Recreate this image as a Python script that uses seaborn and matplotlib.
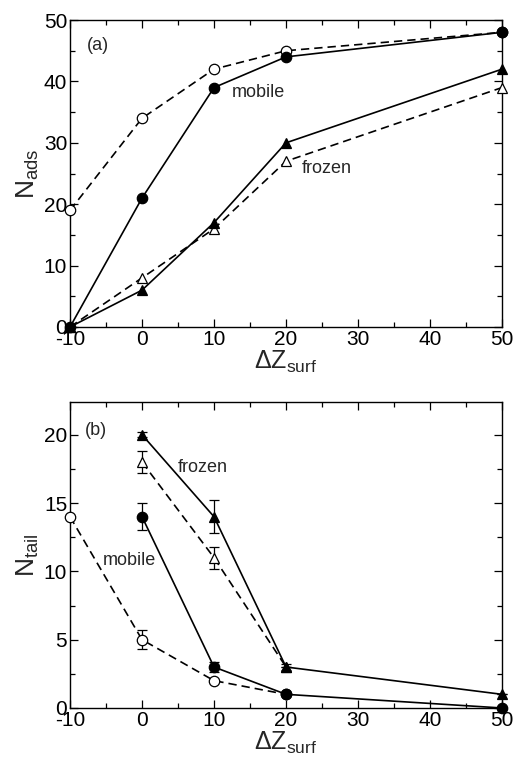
import numpy as np
import matplotlib
matplotlib.use("Agg")
import matplotlib.pyplot as plt
import seaborn as sns
from matplotlib.ticker import MultipleLocator

sns.set_theme(style="ticks")
plt.rcParams['font.family'] = ['Liberation Sans', 'DejaVu Sans']
plt.rcParams['mathtext.fontset'] = 'custom'
plt.rcParams['mathtext.rm'] = 'Liberation Sans'
plt.rcParams['mathtext.it'] = 'Liberation Sans:italic'
plt.rcParams['axes.unicode_minus'] = False

# panel (a): N_ads
x_a = [-10, 0, 10, 20, 50]
ads_mobile_open = [19, 34, 42, 45, 48]
ads_mobile_full = [0, 21, 39, 44, 48]
ads_frozen_full = [0, 6, 17, 30, 42]
ads_frozen_open = [0, 8, 16, 27, 39]

# panel (b): N_tail
x_b_frozen_full = [0, 10, 20, 50]
tail_frozen_full = [20, 14, 3, 1]
err_frozen_full = [0.2, 1.2, 0.2, 0]
x_b_frozen_open = [0, 10, 20]
tail_frozen_open = [18, 11, 3]
err_frozen_open = [0.8, 0.8, 0]
x_b_mobile_full = [0, 10, 20, 50]
tail_mobile_full = [14, 3, 1, 0]
err_mobile_full = [1.0, 0.4, 0, 0]
x_b_mobile_open = [-10, 0, 10, 20]
tail_mobile_open = [14, 5, 2, 1]
err_mobile_open = [0, 0.7, 0, 0]

fig = plt.figure(figsize=(5.13, 7.59), dpi=100)
ax1 = fig.add_axes([0.1365, 0.5692, 0.8421, 0.4044])
ax2 = fig.add_axes([0.1365, 0.0672, 0.8421, 0.4032])


def draw(ax, x, y, ls, marker, filled, err=None):
    fc = 'black' if filled else 'white'
    ms = 7.5 if marker == 'o' else 7
    if err is not None:
        ax.errorbar(x, y, yerr=err, fmt='none', ecolor='black', elinewidth=0.9,
                    capsize=3.5, capthick=0.9, zorder=2, clip_on=False)
    sns.lineplot(x=x, y=y, ax=ax, color='black', linestyle=ls, linewidth=1.2,
                 marker=marker, markersize=ms, markerfacecolor=fc,
                 markeredgecolor='black', markeredgewidth=0.9,
                 dashes=False, clip_on=False, zorder=3)


draw(ax1, x_a, ads_mobile_open, (0, (5, 3)), 'o', False)
draw(ax1, x_a, ads_mobile_full, '-', 'o', True)
draw(ax1, x_a, ads_frozen_open, (0, (5, 3)), '^', False)
draw(ax1, x_a, ads_frozen_full, '-', '^', True)

draw(ax2, x_b_mobile_open, tail_mobile_open, (0, (5, 3)), 'o', False, err_mobile_open)
draw(ax2, x_b_mobile_full, tail_mobile_full, '-', 'o', True, err_mobile_full)
draw(ax2, x_b_frozen_open, tail_frozen_open, (0, (5, 3)), '^', False, err_frozen_open)
draw(ax2, x_b_frozen_full, tail_frozen_full, '-', '^', True, err_frozen_full)

ax1.set_ylim(0, 50)
ax2.set_ylim(0, 22.4)
ax1.yaxis.set_major_locator(MultipleLocator(10))
ax1.yaxis.set_minor_locator(MultipleLocator(5))
ax2.yaxis.set_major_locator(MultipleLocator(5))
ax2.yaxis.set_minor_locator(MultipleLocator(2.5))

for ax in (ax1, ax2):
    ax.set_xlim(-10, 50)
    ax.xaxis.set_major_locator(MultipleLocator(10))
    ax.xaxis.set_minor_locator(MultipleLocator(5))
    ax.tick_params(which='both', direction='in', top=True, right=True,
                   labelsize=15, width=0.9, color='black', labelcolor='black', pad=2)
    ax.tick_params(which='major', length=6)
    ax.tick_params(which='minor', length=3.5)
    for s in ax.spines.values():
        s.set_color('black')
        s.set_linewidth(1.0)
    ax.set_xlabel('ΔZ$_{\\rm surf}$', fontsize=18, labelpad=0)

ax1.set_ylabel('N$_{\\rm ads}$', fontsize=19, labelpad=2)
ax2.set_ylabel('N$_{\\rm tail}$', fontsize=19, labelpad=2)

ax1.text(-7.6, 45.2, '(a)', fontsize=13)
ax1.text(12.5, 37.5, 'mobile', fontsize=13)
ax1.text(22.2, 25.1, 'frozen', fontsize=13)
ax2.text(-7.9, 20.0, '(b)', fontsize=13)
ax2.text(-5.4, 10.5, 'mobile', fontsize=13)
ax2.text(5.0, 17.3, 'frozen', fontsize=13)

fig.savefig('out.png', dpi=100)
